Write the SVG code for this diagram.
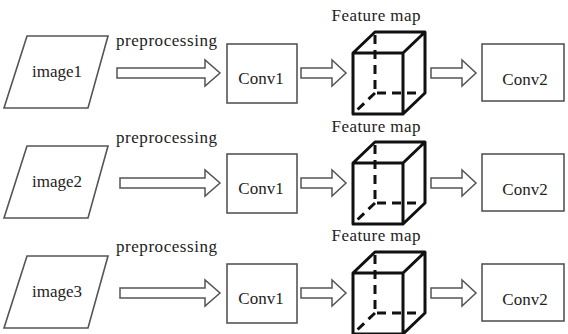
<svg xmlns="http://www.w3.org/2000/svg" width="568" height="334" viewBox="0 0 568 334" font-family="'Liberation Serif', 'DejaVu Serif', serif">
<style>
.bg{fill:#ffffff}
.para,.box{fill:#ffffff;stroke:#555;stroke-width:1.6}
.arrow{fill:#ffffff;stroke:#555;stroke-width:1.5;stroke-linejoin:miter}
.cube{fill:none;stroke:#111;stroke-width:3;stroke-linejoin:round}
.hidden{fill:none;stroke:#111;stroke-width:3;stroke-dasharray:9 6}
.t{font-family:'Liberation Serif','DejaVu Serif',serif;font-size:17px;fill:#222}
.mid{text-anchor:middle}
</style>
<defs>
<g id="cubeShape">
<path class="cube" d="M353,53 H403 V114 H353 Z M353,53 L375,32 H425 L403,53 M425,32 V93 L403,114"/>
<path class="hidden" d="M375,35 V93 H422"/>
<path class="hidden" d="M375,93 L355,112"/>
</g>
</defs>
<rect class="bg" x="0" y="0" width="568" height="334"/>

<g id="image1"><path class="para" d="M27,36 H108 L88,108 H4 Z"/><text class="t mid" x="57" y="77">image1</text></g>
<g id="conv1_1"><rect class="box" x="227" y="44" width="70" height="59"/><text class="t mid" x="261" y="84">Conv1</text></g>
<g id="featuremap1"><use href="#cubeShape"/><text class="t mid" x="376" y="21" textLength="89" lengthAdjust="spacing">Feature map</text></g>
<g id="conv2_1"><rect class="box" x="482" y="44" width="82" height="57"/><text class="t mid" x="525" y="85">Conv2</text></g>

<g id="image2"><path class="para" d="M27,146 H108 L88,218 H4 Z"/><text class="t mid" x="57" y="187">image2</text></g>
<g id="conv1_2"><rect class="box" x="227" y="154" width="70" height="59"/><text class="t mid" x="261" y="194">Conv1</text></g>
<g id="featuremap2"><use href="#cubeShape" transform="translate(0,110)"/><text class="t mid" x="376" y="132" textLength="89" lengthAdjust="spacing">Feature map</text></g>
<g id="conv2_2"><rect class="box" x="482" y="154" width="82" height="57"/><text class="t mid" x="525" y="195">Conv2</text></g>

<g id="image3"><path class="para" d="M27,256 H108 L88,328 H4 Z"/><text class="t mid" x="57" y="297">image3</text></g>
<g id="conv1_3"><rect class="box" x="227" y="264" width="70" height="59"/><text class="t mid" x="261" y="304">Conv1</text></g>
<g id="featuremap3"><use href="#cubeShape" transform="translate(0,220)"/><text class="t mid" x="376" y="241" textLength="89" lengthAdjust="spacing">Feature map</text></g>
<g id="conv2_3"><rect class="box" x="482" y="264" width="82" height="57"/><text class="t mid" x="525" y="305">Conv2</text></g>

<g id="connectors">
<path class="arrow" d="M117,68 H205 V60 L220,73 L205,86 V78 H117 Z"/>
<path class="arrow" d="M301,68 H332 V60 L346,73 L332,86 V78 H301 Z"/>
<path class="arrow" d="M431,68 H462 V60 L476,73 L462,86 V78 H431 Z"/>

<path class="arrow" d="M120,178 H205 V170 L220,183 L205,196 V188 H120 Z"/>
<path class="arrow" d="M301,178 H332 V170 L346,183 L332,196 V188 H301 Z"/>
<path class="arrow" d="M431,178 H462 V170 L476,183 L462,196 V188 H431 Z"/>

<path class="arrow" d="M120,288 H205 V280 L220,293 L205,306 V298 H120 Z"/>
<path class="arrow" d="M301,288 H332 V280 L346,293 L332,306 V298 H301 Z"/>
<path class="arrow" d="M431,288 H462 V280 L476,293 L462,306 V298 H431 Z"/>

<text class="t" x="116" y="46" textLength="101" lengthAdjust="spacing">preprocessing</text>
<text class="t" x="116" y="143" textLength="101" lengthAdjust="spacing">preprocessing</text>
<text class="t" x="116" y="252" textLength="101" lengthAdjust="spacing">preprocessing</text>
</g>
</svg>
